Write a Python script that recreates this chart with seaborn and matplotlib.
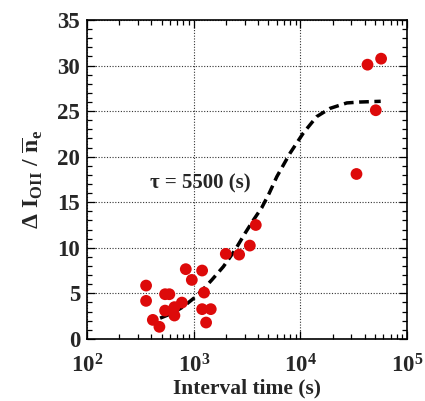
import matplotlib
matplotlib.use("Agg")
import matplotlib.pyplot as plt
import seaborn as sns
import pandas as pd
import numpy as np
from matplotlib.ticker import LogLocator, MultipleLocator, NullFormatter

# measured points
interval_time = [357, 357, 413, 476, 538, 538, 590, 658, 658, 773, 841, 958,
                 1197, 1248, 1197, 1442, 1304, 1995, 2661, 3350, 3811,
                 33500, 42500, 50800, 57000]
delta_I = [5.85, 4.17, 2.08, 1.32, 3.1, 4.9, 4.9, 3.48, 2.56, 3.98, 7.65, 6.47,
           7.5, 5.08, 3.26, 3.26, 1.79, 9.33, 9.25, 10.24, 12.5,
           18.1, 30.1, 25.1, 30.76]

# fitted curve
fit_t = [483, 640, 799, 1028, 1250, 1475, 1894, 2438, 3026, 3600, 4335, 5100,
         6000, 8000, 10640, 14200, 18900, 27200, 36200, 56500]
fit_y = [2.27, 2.85, 3.54, 4.57, 5.55, 6.47, 7.93, 9.76, 11.6, 13.0, 14.4, 16.0,
         17.8, 20.4, 22.6, 24.4, 25.3, 25.9, 26.0, 26.08]

x_ticks = [1e2, 1e3, 1e4, 1e5]
x_tick_labels = [r'$\mathbf{10^{2}}$', r'$\mathbf{10^{3}}$', r'$\mathbf{10^{4}}$', r'$\mathbf{10^{5}}$']
y_ticks = [0, 5, 10, 15, 20, 25, 30, 35]

sns.set_theme(style="white")
plt.rcParams['font.family'] = ['Liberation Serif', 'DejaVu Serif']
plt.rcParams['font.weight'] = 'bold'
plt.rcParams['mathtext.fontset'] = 'custom'
plt.rcParams['mathtext.rm'] = 'Liberation Serif:bold'
plt.rcParams['mathtext.bf'] = 'Liberation Serif:bold'
plt.rcParams['mathtext.it'] = 'Liberation Serif:bold'
plt.rcParams['mathtext.default'] = 'rm'

fig = plt.figure(figsize=(4.25, 4.01), dpi=100)
ax = fig.add_axes([0.205, 0.155, 0.753, 0.795])

pts = pd.DataFrame({"t": interval_time, "y": delta_I})
fit = pd.DataFrame({"t": fit_t, "y": fit_y})

sns.lineplot(data=fit, x="t", y="y", ax=ax, color="black", lw=2.5,
             sort=False, estimator=None, zorder=2, dashes=False)
ax.lines[-1].set_dashes((2.8, 1.6))
ax.lines[-1].set_dash_capstyle('butt')
sns.scatterplot(data=pts, x="t", y="y", ax=ax, color="#dd0a0a", s=72,
                edgecolor="none", zorder=3)

ax.set_xscale("log")
ax.set_xlim(1e2, 1e5)
ax.set_ylim(0, 35)
ax.set_xticks(x_ticks)
ax.set_xticklabels(x_tick_labels)
ax.xaxis.set_minor_locator(LogLocator(base=10, subs=np.arange(2, 10)))
ax.xaxis.set_minor_formatter(NullFormatter())
ax.set_yticks(y_ticks)
ax.set_yticklabels([str(v) for v in y_ticks])
ax.yaxis.set_minor_locator(MultipleLocator(1))

ax.grid(True, which="major", color="#333333", linestyle=(0, (1, 1.5)), lw=0.8)
ax.tick_params(which="both", direction="in", top=True, right=True, bottom=True, left=True,
               color="black", width=0.9)
ax.tick_params(which="major", length=6)
ax.tick_params(which="minor", length=3.5)
ax.tick_params(axis="x", which="major", labelsize=16.5, pad=11)
ax.tick_params(axis="y", which="major", labelsize=16.5, pad=5)
for lab in ax.get_yticklabels():
    lab.set_fontweight("bold")
for sp in ax.spines.values():
    sp.set_color("black")
    sp.set_linewidth(1.2)

ax.set_xlabel("Interval time (s)", fontsize=15.5, fontweight="bold", labelpad=1)
ax.set_ylabel(r'$\Delta\ \mathrm{I}_{\mathrm{OII}}\ /\ \overline{\mathrm{n}}_{\mathrm{e}}$',
              fontsize=17, labelpad=9)
ax.text(389, 17.1, "τ = 5500 (s)", fontsize=15, fontweight="bold", va="center", ha="left")

fig.savefig("out.png", dpi=100)
